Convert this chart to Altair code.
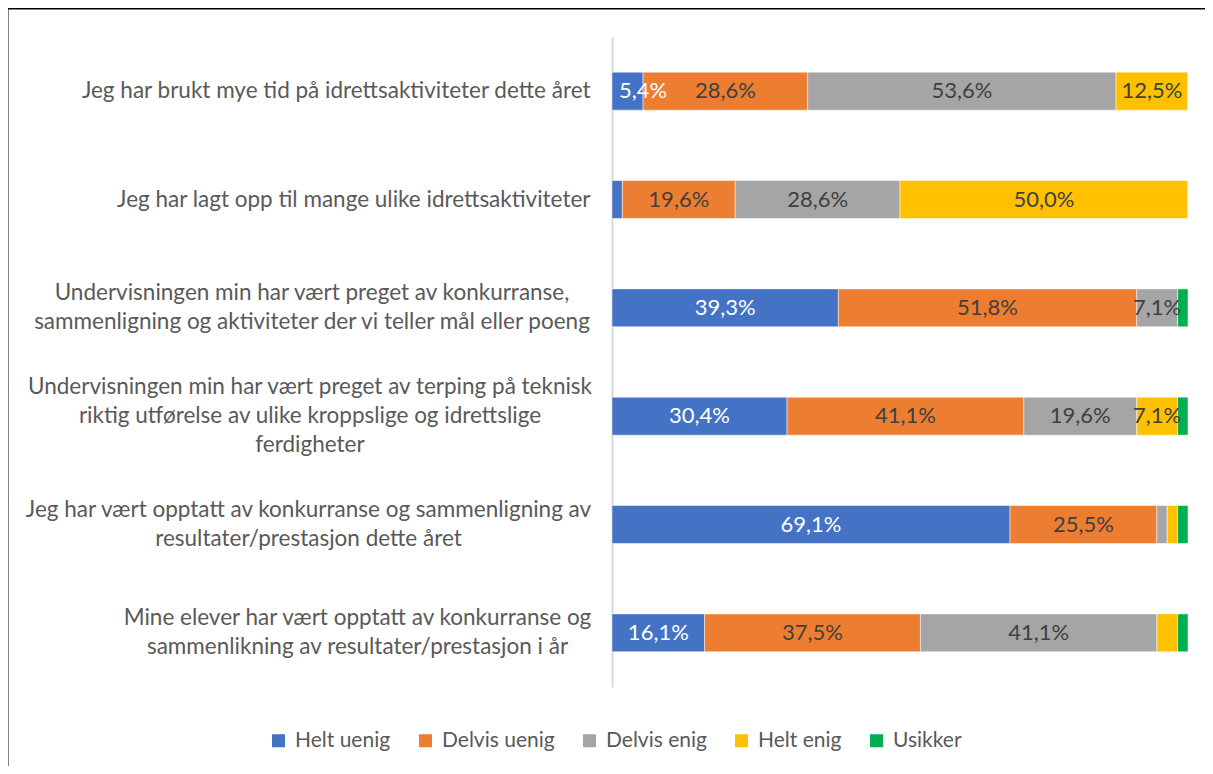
import json
import altair as alt
import pandas as pd

# axis label lines ('|' separates lines)
categories = [
    "Jeg har brukt mye tid på idrettsaktiviteter dette året",
    "Jeg har lagt opp til mange ulike idrettsaktiviteter",
    "Undervisningen min har vært preget av konkurranse,|sammenligning og aktiviteter der vi teller mål eller poeng",
    "Undervisningen min har vært preget av terping på teknisk|riktig utførelse av ulike kroppslige og idrettslige|ferdigheter",
    "Jeg har vært opptatt av konkurranse og sammenligning av|resultater/prestasjon dette året",
    "Mine elever har vært opptatt av konkurranse og|sammenlikning av resultater/prestasjon i år",
]
# multi-line labels are centred as a block; distance from axis to block centre
block_center_pad = [None, None, 300.5, 302.5, 304, 255]

series = ["Helt uenig", "Delvis uenig", "Delvis enig", "Helt enig", "Usikker"]
colors = ["#4472C4", "#ED7D31", "#A5A5A5", "#FFC000", "#00B050"]

helt_uenig = [5.4, 1.8, 39.3, 30.4, 69.1, 16.1]
delvis_uenig = [28.6, 19.6, 51.8, 41.1, 25.5, 37.5]
delvis_enig = [53.6, 28.6, 7.1, 19.6, 1.8, 41.1]
helt_enig = [12.5, 50.0, 0.0, 7.1, 1.8, 3.6]
usikker = [0.0, 0.0, 1.8, 1.8, 1.8, 1.8]

values = [helt_uenig, delvis_uenig, delvis_enig, helt_enig, usikker]

rows = []
for si, (s, vals) in enumerate(zip(series, values)):
    for c, v in zip(categories, vals):
        rows.append({"cat": c, "series": s, "order": si, "v": v})
df = pd.DataFrame(rows)

FONT = "Lato"
FS = 22
LABEL_COLOR = "#595959"

align_conds = []
pad_conds = []
for c, p in zip(categories, block_center_pad):
    if p is None:
        continue
    test = "datum.value == " + json.dumps(c)
    align_conds.append({"test": test, "value": "center"})
    pad_conds.append({"test": test, "value": p})

base = alt.Chart(df).transform_stack(
    stack="v", groupby=["cat"], as_=["x0", "x1"],
    sort=[alt.SortField("order")], offset="normalize"
).transform_calculate(
    lx="datum.v < 6 && datum.order == 0 ? datum.x1 : (datum.x0 + datum.x1) / 2",
    lbl="replace(format(datum.v, '.1f'), '.', ',') + '%'"
)

yenc = alt.Y(
    "cat:N", sort=categories, title=None,
    scale=alt.Scale(paddingInner=0.65, paddingOuter=0.325),
    axis=alt.Axis(
        labelExpr="split(datum.label, '|')",
        labelAlign={"condition": align_conds, "value": "right"},
        labelPadding={"condition": pad_conds, "value": 22},
        labelLimit=800,
        labelFont=FONT, labelFontSize=22.5, labelColor=LABEL_COLOR,
        labelLineHeight=29, ticks=False, grid=False,
        labelOffset={
            "condition": [
                {"test": "length(split(datum.label, '|')) == 3", "value": -29},
                {"test": "length(split(datum.label, '|')) == 2", "value": -14.5},
            ],
            "value": 0,
        },
        domainColor="#D9D9D9", domainWidth=2,
    ),
)

bars = base.mark_bar(stroke="white", strokeWidth=0.5).encode(
    y=yenc,
    x=alt.X("x0:Q", axis=None, scale=alt.Scale(domain=[0, 1], nice=False)),
    x2="x1:Q",
    color=alt.Color(
        "series:N", sort=series,
        scale=alt.Scale(domain=series, range=colors),
        legend=alt.Legend(
            title=None, orient="none", direction="horizontal",
            legendX=-344, legendY=693,
            symbolType="square", symbolSize=170, symbolStrokeWidth=0,
            labelFont=FONT, labelFontSize=21, labelColor=LABEL_COLOR,
            columnPadding=24, labelOffset=6,
        ),
    ),
)

texts = base.transform_filter("datum.v >= 5").mark_text(
    font=FONT, fontSize=FS, baseline="middle", align="center"
).encode(
    y=alt.Y("cat:N", sort=categories),
    x=alt.X("lx:Q"),
    text="lbl:N",
    color=alt.condition("datum.series == 'Helt uenig'", alt.value("white"), alt.value("#404040")),
)

one = pd.DataFrame({"a": [0]})
frame_left = alt.Chart(one).mark_rule(color="black", strokeWidth=2).encode(
    x=alt.value(-604.5), y=alt.value(-29.5), y2=alt.value(735)
)
frame_top = alt.Chart(one).mark_rule(color="black", strokeWidth=2).encode(
    x=alt.value(-605), x2=alt.value(593), y=alt.value(-28.5)
)

chart = alt.layer(bars, texts, frame_left, frame_top).properties(
    width=576, height=650,
    padding={"left": 604, "top": 29, "right": 17, "bottom": 79},
    autosize=alt.AutoSizeParams(type="none"),
).configure_view(stroke=None)

chart.save("out.html", embed_options={"renderer": "svg", "actions": False})
